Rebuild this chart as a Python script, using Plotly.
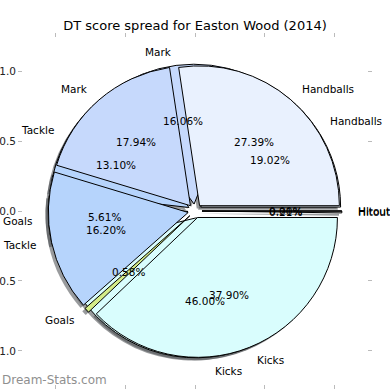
import numpy as np
import plotly.graph_objects as go

# ---------------- data ----------------
categories = ["Handballs", "Mark", "Tackle", "Goals", "Kicks", "Hitout"]
share_top = [27.39, 17.94, 16.20, 0.58, 37.90, 0.00]     # pie drawn on top
share_under = [19.02, 16.06, 13.10, 5.61, 46.00, 0.21]   # pie drawn underneath
slice_colors = ["#e9f1fe", "#c6d9fc", "#b6d4fc", "#d4ec88", "#d9fdfd", "#f6f6f6"]
axis_ticks = [-1.0, -0.5, 0.0, 0.5, 1.0]
chart_title = "DT score spread for Easton Wood (2014)"
watermark = "Dream-Stats.com"

# ---------------- style ----------------
EXPLODE = 0.05
LABEL_DIST = 1.1
PCT_DIST = 0.6
FONT = "DejaVu Sans"
SHADOW = 0.02
W, H = 390, 390
ML, MR, MT, MB = 23, 23, 38, 6
PW, PH = W - ML - MR, H - MT - MB
RX = 1.23                 # x half-range
RY = RX * PH / PW         # y half-range (equal aspect)
WATERMARK_Y_PX = 380      # centre of watermark, px from top

hx = (1 + EXPLODE) / (2 * RX)
hy = (1 + EXPLODE) / (2 * RY)


def dom(dx=0.0, dy=0.0):
    return dict(x=[0.5 - hx + dx, 0.5 + hx + dx], y=[0.5 - hy + dy, 0.5 + hy + dy])


def mids(vals):
    v = np.asarray(vals, float)
    frac = v / v.sum()
    start = np.concatenate([[0.0], np.cumsum(frac)[:-1]])
    return 2 * np.pi * (start + frac / 2), frac


def start_rotation(vals):
    # plotly's counterclockwise layout ends the first slice at `rotation`;
    # shift so the first slice starts at 3 o'clock like matplotlib
    v = np.asarray(vals, float)
    return 90.0 - 360.0 * v[0] / v.sum()


fig = go.Figure()
# empty cartesian trace so that the axes are shown
fig.add_trace(go.Scatter(x=[], y=[], showlegend=False, hoverinfo="skip"))

for vals in (share_under, share_top):
    fig.add_trace(go.Pie(
        values=vals, labels=categories, sort=False, direction="counterclockwise",
        rotation=start_rotation(vals), pull=[EXPLODE] * len(vals), textinfo="none",
        hoverinfo="skip",
        marker=dict(colors=["rgba(70,73,76,0.55)"] * len(vals), line=dict(width=0)),
        domain=dom(-SHADOW / (2 * RX), -SHADOW / (2 * RY)), showlegend=False))

for vals in (share_under, share_top):
    fig.add_trace(go.Pie(
        values=vals, labels=categories, sort=False, direction="counterclockwise",
        rotation=start_rotation(vals), pull=[EXPLODE] * len(vals), textinfo="none",
        hoverinfo="label+percent",
        marker=dict(colors=slice_colors, line=dict(color="black", width=1)),
        domain=dom(), showlegend=False))

annotations = []
for vals in (share_under, share_top):
    ang, frac = mids(vals)
    for cat, a, f in zip(categories, ang, frac):
        c, s = np.cos(a), np.sin(a)
        lx, ly = (EXPLODE + LABEL_DIST) * c, (EXPLODE + LABEL_DIST) * s
        annotations.append(dict(
            x=lx, y=ly, xref="x", yref="y", text=cat, showarrow=False,
            xanchor="left" if lx > 0 else "right", yanchor="middle",
            font=dict(family=FONT, size=10.5, color="black")))
        px, py = (EXPLODE + PCT_DIST) * c, (EXPLODE + PCT_DIST) * s
        annotations.append(dict(
            x=px, y=py, xref="x", yref="y", text=f"{f * 100:.2f}%", showarrow=False,
            xanchor="center", yanchor="middle",
            font=dict(family=FONT, size=10.5, color="black")))

annotations.append(dict(
    x=-ML / PW, y=(H - WATERMARK_Y_PX - MB) / PH, xref="paper", yref="paper",
    text=watermark, showarrow=False, xanchor="left", yanchor="middle",
    font=dict(family=FONT, size=12, color="#8f8f8f")))

axis_common = dict(
    showgrid=False, zeroline=False, showline=True, automargin=False,
    linecolor="rgba(0,0,0,0)", mirror="ticks", ticks="outside", ticklen=4,
    tickcolor="#bbbbbb", tickwidth=1, tickvals=axis_ticks, tickformat=".1f",
    tickfont=dict(family=FONT, size=10.5, color="#222222"), fixedrange=True)

fig.update_layout(
    width=W, height=H,
    margin=dict(l=ML, r=MR, t=MT, b=MB, autoexpand=False),
    paper_bgcolor="white", plot_bgcolor="white",
    title=dict(text=chart_title, x=0.5, xanchor="center", y=1 - 25 / H,
               yanchor="middle", font=dict(family=FONT, size=13, color="black")),
    xaxis=dict(range=[-RX, RX], **axis_common),
    yaxis=dict(range=[-RY, RY], **axis_common),
    annotations=annotations,
)

fig.write_html("out.html", config={"displayModeBar": False},
               post_script="document.body.style.margin='0';document.body.style.overflow='hidden';")
